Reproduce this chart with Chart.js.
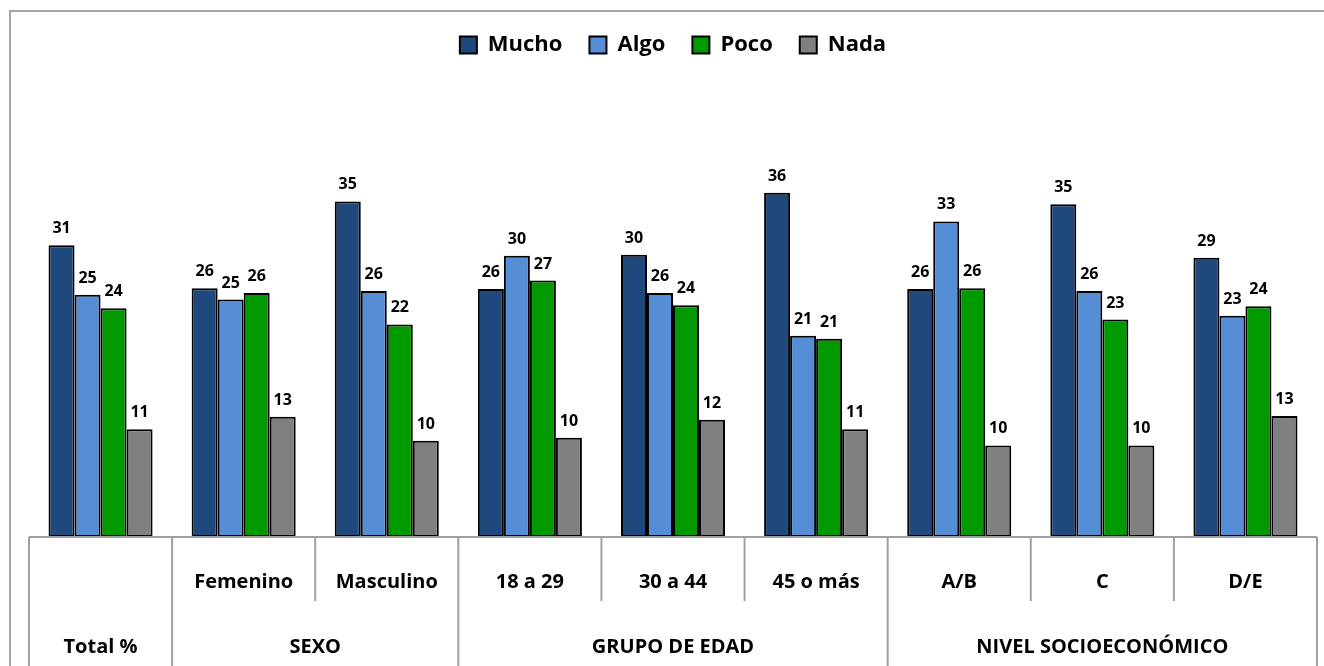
<!DOCTYPE html>
<html>
<head>
<meta charset="utf-8">
<script src="https://cdn.jsdelivr.net/npm/chart.js@4"></script>
<style>
  body { margin: 0; background: #fff; }
  #wrap { position: relative; width: 1324px; height: 666px; overflow: hidden; }
  #frame { position: absolute; left: 9px; top: 10px; right: -10px; bottom: -10px;
           border-top: 2px solid #a6a6a6; border-left: 2px solid #a6a6a6; }
  canvas { position: absolute; left: 0; top: 0; }
</style>
</head>
<body>
<div id="wrap">
  <div id="frame"></div>
  <canvas id="chart" width="1324" height="666"></canvas>
</div>
<script>
// ── data ────────────────────────────────────────────────
const categories = ['', 'Femenino', 'Masculino', '18 a 29', '30 a 44', '45 o más', 'A/B', 'C', 'D/E'];
const groups = ['Total %', 'SEXO', 'GRUPO DE EDAD', 'NIVEL SOCIOECONÓMICO'];
const groupSizes = [1, 2, 3, 3];

const mucho = [30.6, 26.1, 35.2, 26.0, 29.6, 36.1, 26.0, 34.9, 29.3];
const algo  = [25.4, 24.9, 25.8, 29.5, 25.6, 21.1, 33.1, 25.8, 23.2];
const poco  = [24.0, 25.6, 22.3, 26.9, 24.3, 20.8, 26.1, 22.8, 24.2];
const nada  = [11.3, 12.6, 10.1, 10.4, 12.3, 11.3, 9.6, 9.6, 12.7];

const FONT = '"Open Sans", "DejaVu Sans", sans-serif';

// labels above each bar
const valueLabels = {
  id: 'valueLabels',
  afterDatasetsDraw(chart) {
    const ctx = chart.ctx;
    ctx.save();
    ctx.font = 'bold 16px ' + FONT;
    ctx.fillStyle = '#000';
    ctx.textAlign = 'center';
    ctx.textBaseline = 'alphabetic';
    chart.data.datasets.forEach((ds, di) => {
      chart.getDatasetMeta(di).data.forEach((bar, i) => {
        ctx.fillText(Math.round(ds.data[i]), bar.x, bar.y - 12);
      });
    });
    ctx.restore();
  }
};

// two-level category axis below the bars
const groupAxis = {
  id: 'groupAxis',
  afterDraw(chart) {
    const ctx = chart.ctx;
    const x = chart.scales.x;
    const area = chart.chartArea;
    const step = x.getPixelForValue(1) - x.getPixelForValue(0);
    const edge = i => x.getPixelForValue(i) - step / 2;
    const base = area.bottom;

    ctx.save();
    ctx.strokeStyle = '#a0a0a0';
    ctx.lineWidth = 2;
    ctx.beginPath();
    ctx.moveTo(edge(0), base);
    ctx.lineTo(edge(categories.length), base);
    ctx.stroke();

    // group boundaries get long lines
    const longEdges = [0];
    groupSizes.reduce((acc, n) => { longEdges.push(acc + n); return acc + n; }, 0);
    for (let i = 0; i <= categories.length; i++) {
      const px = edge(i);
      ctx.beginPath();
      ctx.moveTo(px, base);
      ctx.lineTo(px, longEdges.includes(i) ? chart.height : base + 64);
      ctx.stroke();
    }

    ctx.fillStyle = '#000';
    ctx.textAlign = 'center';
    ctx.textBaseline = 'alphabetic';
    ctx.font = 'bold 20px ' + FONT;
    categories.forEach((c, i) => {
      ctx.fillText(c, x.getPixelForValue(i), base + 51);
    });
    let start = 0;
    groups.forEach((g, gi) => {
      const mid = (edge(start) + edge(start + groupSizes[gi])) / 2;
      ctx.fillText(g, mid, base + 116);
      start += groupSizes[gi];
    });
    ctx.restore();
  }
};

function makeSet(label, data, color) {
  return {
    label: label,
    data: data,
    backgroundColor: color,
    borderColor: '#000',
    borderWidth: 2,
    borderSkipped: false,
    categoryPercentage: 0.727,
    barPercentage: 1
  };
}

new Chart(document.getElementById('chart'), {
  type: 'bar',
  data: {
    labels: categories,
    datasets: [
      makeSet('Mucho', mucho, '#1F497D'),
      makeSet('Algo', algo, '#558ED5'),
      makeSet('Poco', poco, '#009900'),
      makeSet('Nada', nada, '#808080')
    ]
  },
  options: {
    responsive: false,
    animation: false,
    layout: {
      padding: { left: 29, right: 7, top: 7, bottom: 129 }
    },
    plugins: {
      legend: {
        position: 'top',
        labels: {
          color: '#000',
          font: { family: FONT, size: 22, weight: 'bold' },
          boxWidth: 17,
          boxHeight: 17,
          padding: 27
        }
      },
      tooltip: { enabled: false }
    },
    scales: {
      x: { display: false },
      y: { display: false, min: 0, max: 49.4 }
    }
  },
  plugins: [valueLabels, groupAxis]
});
</script>
</body>
</html>
